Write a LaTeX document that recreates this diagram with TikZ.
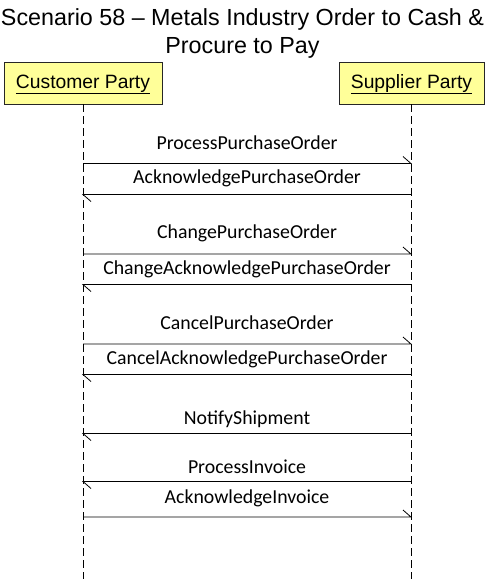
\documentclass[tikz,border=0pt]{standalone}
\usepackage{fontspec}
\setmainfont{Liberation Sans}
\newfontfamily\msgfont{Carlito}
\definecolor{boxfill}{HTML}{FFFF99}
\begin{document}
\begin{tikzpicture}[x=1pt,y=-1pt,
  party/.style={draw=black!85, fill=boxfill, minimum width=#1, minimum height=42pt,
    inner sep=0pt, font=\fontsize{19.3}{23}\selectfont, text height=14pt, text depth=4pt},
  titletext/.style={anchor=base, inner sep=0pt, font=\fontsize{23.3}{28}\selectfont},
  lifeline/.style={draw=black, dash pattern=on 8pt off 4pt, line width=0.8pt},
  msgright/.style={draw=black, line width=0.8pt, to path={-- (\tikztotarget) -- ++(-8,-7)}},
  msgleft/.style={draw=black, line width=0.8pt, to path={-- (\tikztotarget) -- ++(8,7)}},
  lbl/.style={anchor=base, inner sep=0pt, font=\msgfont\fontsize{19.8}{24}\selectfont}
]
\useasboundingbox (0,0) rectangle (485,579);

\node[titletext] (t1) at (242.5,25.8) {Scenario 58 – Metals Industry Order to Cash \&};
\node[titletext] (t2) at (242.5,53.3) {Procure to Pay};

\node[party=158pt] (cust) at (83,83) {\underline{Customer Party}};
\node[party=145pt] (supp) at (411.5,83) {\underline{Supplier Party}};

\coordinate (cend) at (83,579);
\coordinate (send) at (411,579);
\draw[lifeline] (cust.south) -- (cend);
\draw[lifeline] (supp.south -| send) -- (send);

% message coordinates
\foreach \i/\y in {1/163.5,2/194.5,3/254,4/284.5,5/344,6/374.5,7/433.5,8/481.5,9/517}{
  \coordinate (c\i) at (83,\y);
  \coordinate (s\i) at (411,\y);
}

\draw[msgright] (c1) to (s1);
\node[lbl] (l1) at (247,149.1) {ProcessPurchaseOrder};
\draw[msgleft] (s2) to (c2);
\node[lbl] (l2) at (247,183.1) {AcknowledgePurchaseOrder};
\draw[msgright] (c3) to (s3);
\node[lbl] (l3) at (247,238.7) {ChangePurchaseOrder};
\draw[msgleft] (s4) to (c4);
\node[lbl] (l4) at (247,274.7) {ChangeAcknowledgePurchaseOrder};
\draw[msgright] (c5) to (s5);
\node[lbl] (l5) at (247,329.1) {CancelPurchaseOrder};
\draw[msgleft] (s6) to (c6);
\node[lbl] (l6) at (247,364.7) {CancelAcknowledgePurchaseOrder};
\draw[msgleft] (s7) to (c7);
\node[lbl] (l7) at (247,424.4) {NotifyShipment};
\draw[msgleft] (s8) to (c8);
\node[lbl] (l8) at (247,473.1) {ProcessInvoice};
\draw[msgright] (c9) to (s9);
\node[lbl] (l9) at (247,503.1) {AcknowledgeInvoice};
\end{tikzpicture}
\end{document}
